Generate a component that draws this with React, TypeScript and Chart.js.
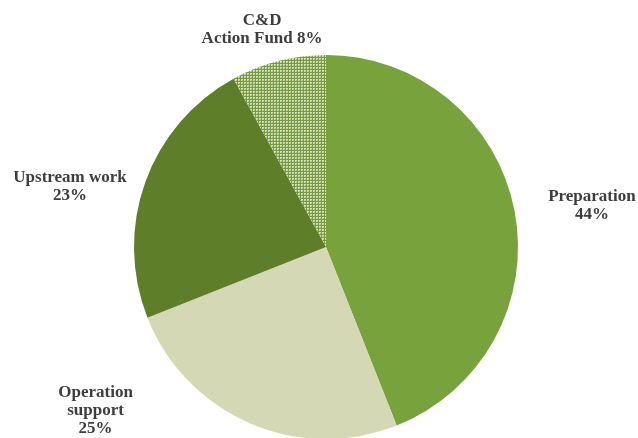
import React, { useEffect, useRef } from "react";
import { Chart, registerables } from "chart.js";

Chart.register(...registerables);

const categories = ["Preparation", "Operation support", "Upstream work", "C&D Action Fund"];
const shares = [44, 25, 23, 8];
const labelLines = [
  ["Preparation", "44%"],
  ["Operation", "support", "25%"],
  ["Upstream work", "23%"],
  ["C&D", "Action Fund 8%"],
];

// label anchor offsets in units of pie radius (style/layout, not data)
const labelAnchors = [
  [1.385, -0.216],
  [-1.2, 0.85],
  [-1.333, -0.315],
  [-0.333, -1.13],
];

function makePattern(): CanvasPattern | string {
  const c = document.createElement("canvas");
  c.width = 3;
  c.height = 3;
  const ctx = c.getContext("2d");
  if (!ctx) return "#a3b985";
  ctx.fillStyle = "#769a40";
  ctx.fillRect(0, 0, 3, 3);
  ctx.fillStyle = "#d6dfbd";
  ctx.fillRect(1, 1, 2, 2);
  ctx.fillStyle = "#a8bf82";
  ctx.fillRect(2, 2, 1, 1);
  const p = ctx.createPattern(c, "repeat");
  return p || "#a3b985";
}

const labelPlugin = {
  id: "sliceLabels",
  afterDraw(chart: any) {
    const meta = chart.getDatasetMeta(0);
    const ctx = chart.ctx;
    ctx.save();
    ctx.font = "bold 17px 'Liberation Serif', 'DejaVu Serif', serif";
    ctx.fillStyle = "#3d3d3d";
    ctx.textAlign = "center";
    ctx.textBaseline = "middle";
    meta.data.forEach((arc: any, i: number) => {
      const r = arc.outerRadius;
      const cx = arc.x + labelAnchors[i][0] * r;
      const cy = arc.y + labelAnchors[i][1] * r;
      const lines = labelLines[i];
      const lh = 18;
      const top = cy - ((lines.length - 1) * lh) / 2;
      lines.forEach((t, k) => ctx.fillText(t, cx, top + k * lh));
    });
    ctx.restore();
  },
};

export default function App() {
  const ref = useRef<HTMLCanvasElement>(null);
  useEffect(() => {
    if (!ref.current) return;
    const chart = new Chart(ref.current, {
      type: "pie",
      data: {
        labels: categories,
        datasets: [
          {
            data: shares,
            backgroundColor: ["#78a23b", "#d4d8b5", "#5f7e2a", makePattern() as any],
            borderWidth: 0,
          },
        ],
      },
      options: {
        animation: false,
        responsive: true,
        maintainAspectRatio: false,
        layout: { padding: { top: 55, bottom: 21, left: 134, right: 120 } },
        plugins: { legend: { display: false }, tooltip: { enabled: false } },
      },
      plugins: [labelPlugin],
    });
    return () => chart.destroy();
  }, []);
  return (
    <div style={{ position: "absolute", left: 0, top: 0, width: 638, height: 438, overflow: "hidden", background: "#fff" }}>
      <div style={{ position: "relative", width: 638, height: 460 }}>
        <canvas ref={ref} />
      </div>
    </div>
  );
}
